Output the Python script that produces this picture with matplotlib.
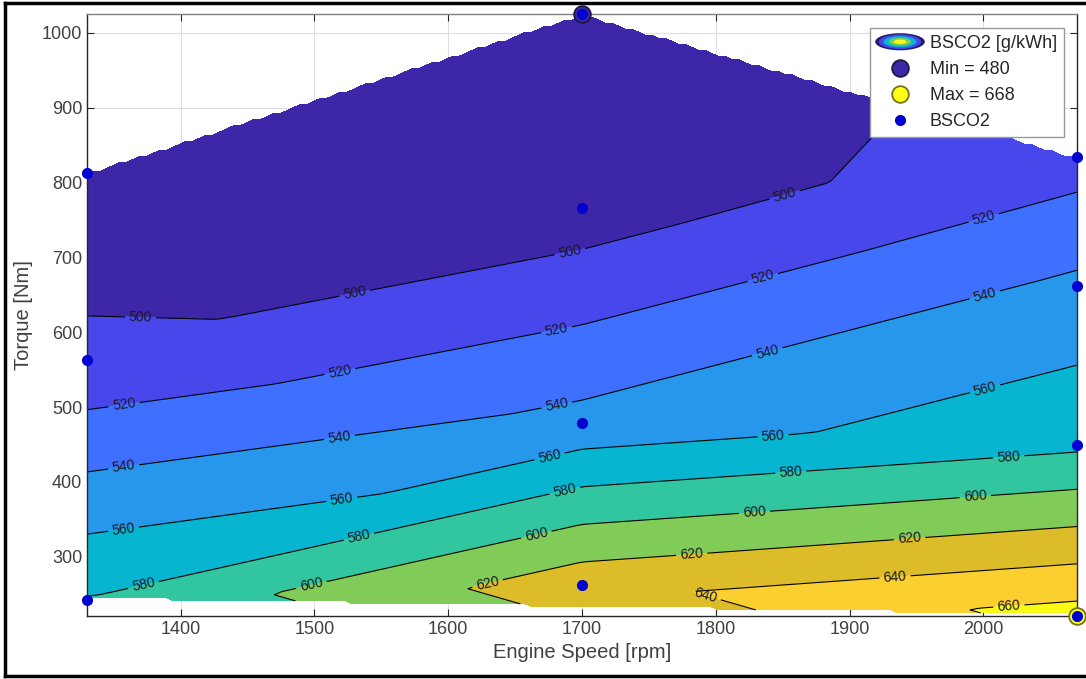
import numpy as np
import matplotlib
matplotlib.use("Agg")
import matplotlib.pyplot as plt
import matplotlib.tri as mtri
from matplotlib.patches import Ellipse
from matplotlib.legend_handler import HandlerBase
from matplotlib.lines import Line2D

plt.rcParams["font.family"] = ["Liberation Sans", "DejaVu Sans"]

# ---- measured operating points (engine speed, torque, BSCO2) ----
speed = [1330, 1330, 1330, 1700, 1700, 1700, 1700, 2070, 2070, 2070, 2070]
torque = [813, 563, 243, 1025, 766, 479, 263, 834, 662, 450, 221]
bsco2 = [487, 504, 581, 480, 489, 546, 632, 511, 544, 576, 668]

# contour levels and the MATLAB parula colours used for each band
levels = [480, 500, 520, 540, 560, 580, 600, 620, 640, 660]
band_colors = [
    (0.2422, 0.1504, 0.6603),
    (0.2803, 0.2782, 0.9221),
    (0.2440, 0.4358, 0.9988),
    (0.1540, 0.5902, 0.9218),
    (0.0297, 0.7082, 0.8163),
    (0.1938, 0.7758, 0.6251),
    (0.5044, 0.7993, 0.3480),
    (0.8634, 0.7406, 0.1596),
    (0.9892, 0.8136, 0.1885),
    (0.9769, 0.9839, 0.0805),
]

xticks = [1400, 1500, 1600, 1700, 1800, 1900, 2000]
yticks = [300, 400, 500, 600, 700, 800, 900, 1000]

# where the contour labels sit (speed, torque)
label_pos = [
    (1370, 619), (1530, 653), (1691, 707), (1852, 781),
    (1358, 499), (1519, 547), (1681, 603), (1835, 674), (2001, 748),
    (1358, 412), (1519, 456), (1681, 504), (1838, 577), (2001, 650),
    (1358, 327), (1521, 370), (1676, 432), (1843, 460), (2001, 526),
    (1373, 256), (1534, 320), (1687, 389), (1856, 415), (2019, 432),
    (1498, 260), (1666, 329), (1829, 357), (1994, 380),
    (1630, 259), (1782, 304), (1945, 323),
    (1792, 245), (1934, 272),
    (2019, 236),
]

W, H = 1086, 679
fig = plt.figure(figsize=(W / 100, H / 100), dpi=100)
ax = fig.add_axes([87 / W, 1 - 616 / H, 990 / W, 602 / H])

# linear (Delaunay) interpolation of the scattered points on a mesh, like griddata
tri = mtri.Triangulation(speed, torque)
interp = mtri.LinearTriInterpolator(tri, bsco2)
gx = np.linspace(min(speed), max(speed), 150)
gy = np.linspace(min(torque), max(torque), 200)
GX, GY = np.meshgrid(gx, gy)
Z = interp(GX, GY)

ax.set_axisbelow(True)
ax.grid(True, color=(0.87, 0.87, 0.87), lw=0.8)
ax.contourf(GX, GY, Z, levels=levels + [levels[-1] + 20], colors=band_colors, zorder=1)
cs = ax.contour(GX, GY, Z, levels=levels[1:], colors="k", linewidths=0.8, zorder=2)
ax.clabel(cs, fmt="%d", fontsize=10, manual=label_pos, inline=True, inline_spacing=4,
          colors=[(0.1, 0.1, 0.15)])

imin = int(np.argmin(bsco2))
imax = int(np.argmax(bsco2))
ax.plot(speed[imin], torque[imin], "o", ms=12, mfc=band_colors[0], mec=(0.1, 0.1, 0.25),
        mew=1.3, ls="none", clip_on=False, zorder=5, label=f"Min = {bsco2[imin]}")
ax.plot(speed[imax], torque[imax], "o", ms=12, mfc=(1.0, 1.0, 0.1), mec=(0.45, 0.45, 0.1),
        mew=1.3, ls="none", clip_on=False, zorder=5, label=f"Max = {bsco2[imax]}")
ax.plot(speed, torque, "o", ms=7, color=(0.0, 0.0, 0.82), ls="none", clip_on=False,
        zorder=6, label="BSCO2")

ax.set_xlim(min(speed), max(speed))
ax.set_ylim(min(torque), max(torque))
ax.set_xticks(xticks)
ax.set_yticks(yticks)
txtc = (0.25, 0.25, 0.25)
ax.tick_params(direction="in", top=True, right=True, length=5, labelsize=13,
               colors=(0.15, 0.15, 0.15), labelcolor=txtc)
for s in ax.spines.values():
    s.set_color((0.15, 0.15, 0.15))
    s.set_linewidth(1.0)
ax.spines["top"].set_color((0.5, 0.5, 0.5))
ax.set_xlabel("Engine Speed [rpm]", fontsize=14.5, color=txtc, labelpad=4)
ax.set_ylabel("Torque [Nm]", fontsize=14.5, color=txtc, labelpad=6)


class ContourIcon:
    pass


class ContourHandler(HandlerBase):
    def create_artists(self, legend, orig_handle, xdescent, ydescent, width, height,
                       fontsize, trans):
        cx = width / 2 - xdescent
        cy = height / 2 - ydescent
        arts = []
        rings = [(1.0, (0.12, 0.1, 0.45)), (0.85, band_colors[1]), (0.66, band_colors[4]),
                 (0.45, band_colors[6]), (0.26, band_colors[9])]
        for sc, col in rings:
            e = Ellipse((cx, cy), width * sc * 1.1, height * 1.35 * sc, facecolor=col,
                        edgecolor="none", transform=trans)
            arts.append(e)
        return arts


handles, labels = ax.get_legend_handles_labels()
handles = [ContourIcon()] + handles
labels = ["BSCO2 [g/kWh]"] + labels
leg = ax.legend(handles, labels, loc="upper right", bbox_to_anchor=(0.987, 0.977),
                borderaxespad=0, fontsize=13, fancybox=False, framealpha=1,
                edgecolor=(0.6, 0.6, 0.6), handlelength=2.5, labelspacing=0.5,
                handletextpad=0.4, borderpad=0.4,
                handler_map={ContourIcon: ContourHandler()})
leg.get_frame().set_linewidth(1.0)
for t in leg.get_texts():
    t.set_color((0.15, 0.15, 0.15))

# black frame of the screenshot
fx0 = 5 / W
fy_top = 1 - 3 / H
fy_bot = 1 - 676 / H
fig.add_artist(Line2D([fx0, fx0], [fy_bot, fy_top], transform=fig.transFigure, color="k", lw=2.5))
fig.add_artist(Line2D([fx0, 1], [fy_top, fy_top], transform=fig.transFigure, color="k", lw=2.5))
fig.add_artist(Line2D([fx0, 1], [fy_bot, fy_bot], transform=fig.transFigure, color="k", lw=2.5))

fig.savefig("out.png", dpi=100)
